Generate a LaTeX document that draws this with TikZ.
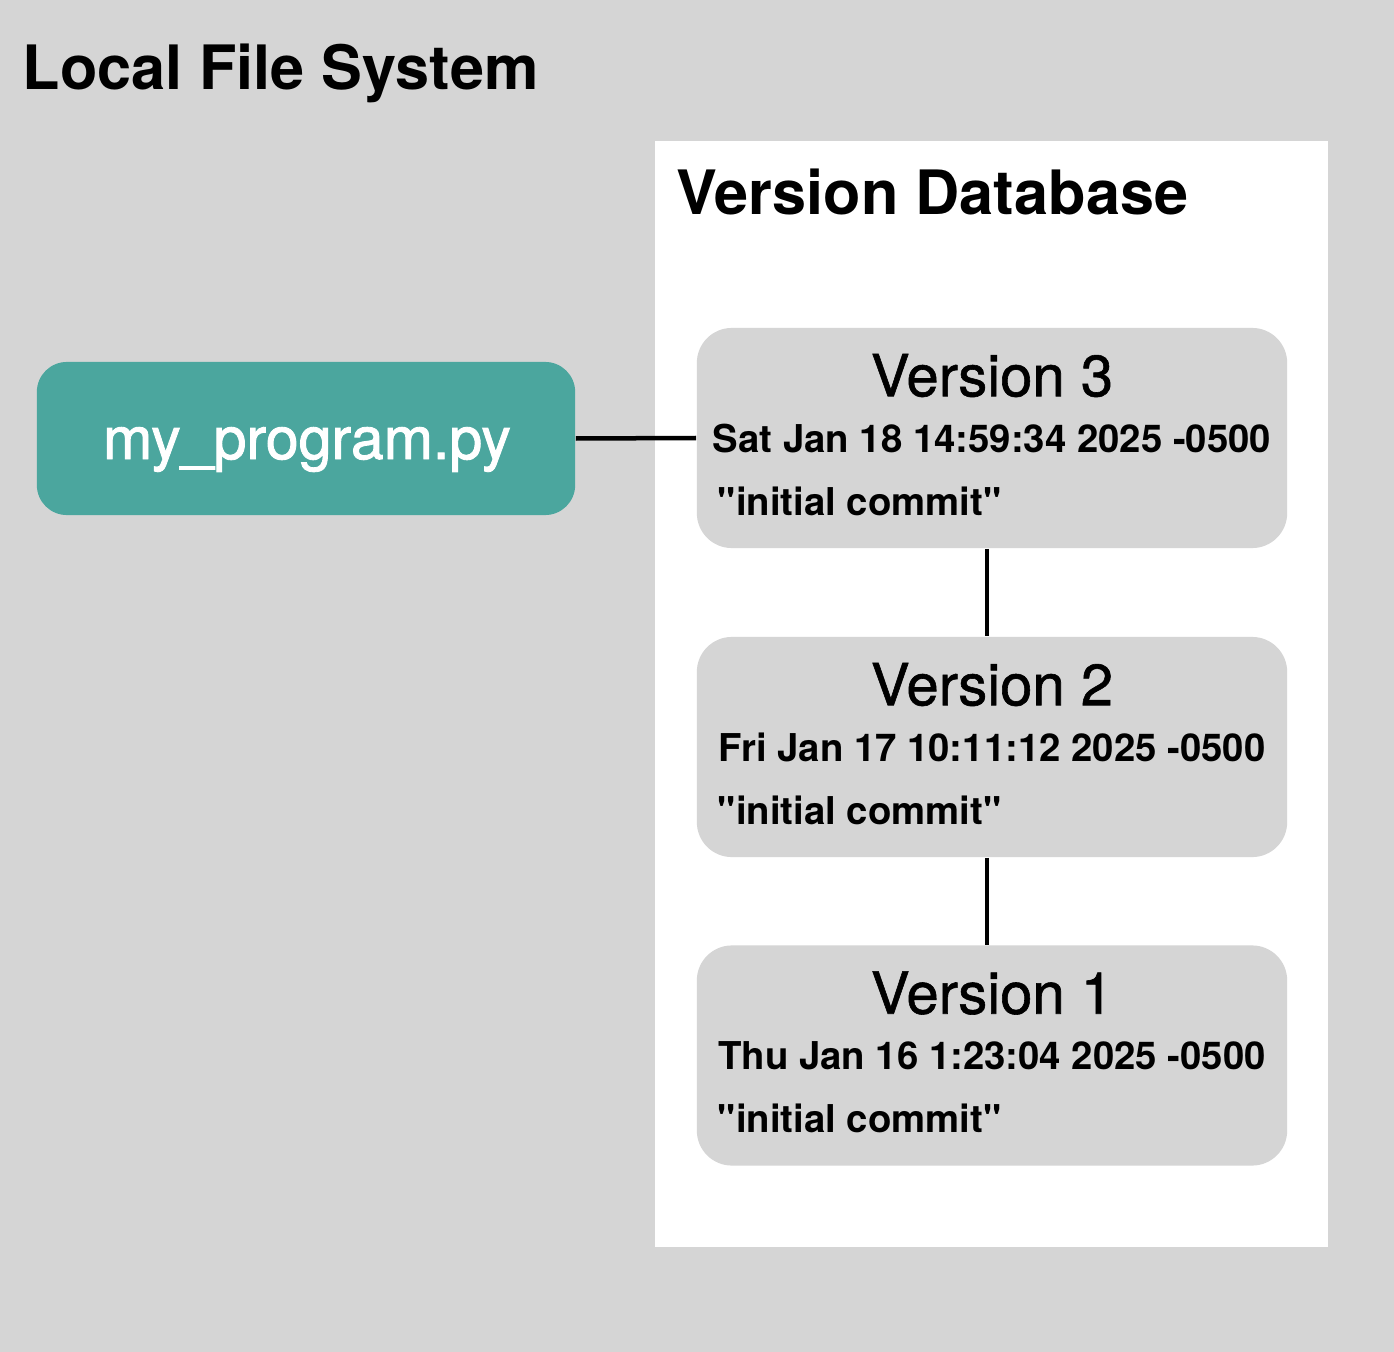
\documentclass[tikz,border=0pt]{standalone}
\usepackage{fontspec}
\setmainfont{TeX Gyre Heros}[Ligatures=TeXOff]
\usetikzlibrary{calc}
\definecolor{lfsgray}{HTML}{D5D5D5}
\definecolor{fileteal}{HTML}{4BA69E}

\tikzset{
  version/.style={rectangle, fill=lfsgray, rounded corners=0.35cm, minimum width=5.9cm, minimum height=2.2cm, inner sep=0pt},
  heading/.style={anchor=base west, inner sep=0pt, font=\bfseries\fontsize{17.4}{20}\selectfont},
  vtitle/.style={anchor=base, inner sep=0pt, font=\fontsize{16.5}{18}\selectfont\addfontfeature{FakeBold=1}},
  vdate/.style={anchor=base, inner sep=0pt, font=\bfseries\fontsize{10.9}{12}\selectfont},
  vmsg/.style={anchor=base west, inner sep=0pt, font=\bfseries\fontsize{10.9}{12}\selectfont},
  link/.style={line width=0.045cm}
}

\begin{document}
\begin{tikzpicture}[x=0.01cm, y=-0.01cm]
    \useasboundingbox (0,0) rectangle (1394,1352);
    \fill[lfsgray] (0,0) rectangle (1394,1352);
    \node[heading] (lfs) at (22,90) {Local File System};

    \fill[white] (655,141) rectangle (1328,1247);
    \node[heading] (vdb) at (676,215) {Version Database};

    \node[rectangle, fill=fileteal, rounded corners=0.3cm, minimum width=5.38cm, minimum height=1.53cm, inner sep=0pt] (file) at (306,438.5) {};
    \node[anchor=base, inner sep=0pt, text=white, font=\fontsize{16.8}{18}\selectfont\addfontfeature{FakeBold=1.5}] (filename) at (307,459) {my\_program.py};

    \node[version] (v3) at (992,438) {};
    \node[version] (v2) at (992,747) {};
    \node[version] (v1) at (992,1055.5) {};

    \node[vtitle] (v3t) at ($(v3.north)+(0,69)$) {Version 3};
    \node[vdate] (v3d) at ($(v3.north)+(0,125)$) {Sat Jan 18 14:59:34 2025 -0500};
    \node[vmsg] (v3m) at ($(v3.north west)+(21,188)$) {"initial commit"};

    \node[vtitle] (v2t) at ($(v2.north)+(0,69)$) {Version 2};
    \node[vdate] (v2d) at ($(v2.north)+(0,125)$) {Fri Jan 17 10:11:12 2025 -0500};
    \node[vmsg] (v2m) at ($(v2.north west)+(21,188)$) {"initial commit"};

    \node[vtitle] (v1t) at ($(v1.north)+(0,69)$) {Version 1};
    \node[vdate] (v1d) at ($(v1.north)+(0,125)$) {Thu Jan 16 1:23:04 2025 -0500};
    \node[vmsg] (v1m) at ($(v1.north west)+(21,188)$) {"initial commit"};

    \draw[link] (file.east) -- (v3.west);
    \draw[link] ($(v3.south)+(-5,0)$) -- ($(v2.north)+(-5,0)$);
    \draw[link] ($(v2.south)+(-5,0)$) -- ($(v1.north)+(-5,0)$);
\end{tikzpicture}
\end{document}
